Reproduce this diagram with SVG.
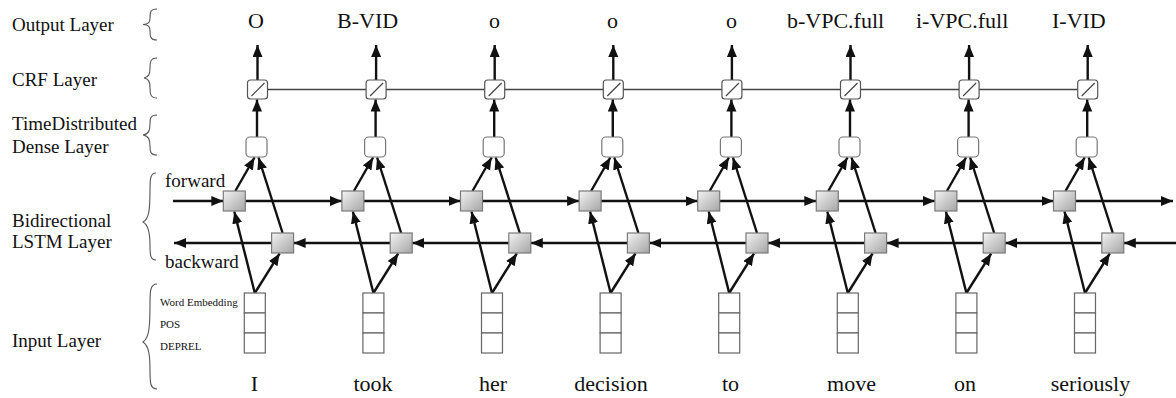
<svg xmlns="http://www.w3.org/2000/svg" width="1176" height="398" viewBox="0 0 1176 398" font-family="'Liberation Serif', 'DejaVu Serif', serif">
  <style>
    text { font-family: "Liberation Serif", "DejaVu Serif", serif; fill: #111; }
    .lbl { font-size: 19px; }
    .small { font-size: 11px; }
    .tok { font-size: 22px; text-anchor: middle; }
    .out { font-size: 22px; }
    .brace { fill: none; stroke: #555; stroke-width: 1.1; }
    .arr { fill: none; stroke: #111; stroke-width: 2.4; marker-end: url(#ah); }
    .chain { fill: none; stroke: #444; stroke-width: 1.5; }
    .lstm { fill: url(#lstmFill); stroke: #7a7a7a; stroke-width: 1.2; }
    .dense { fill: #fff; stroke: #777; stroke-width: 1.2; }
    .crf { fill: #fff; stroke: #555; stroke-width: 1.2; }
    .slash { stroke: #444; stroke-width: 1.2; }
    .cell { fill: #fff; stroke: #666; stroke-width: 1.2; }
  </style>
  <defs>
    <linearGradient id="lstmFill" x1="0" y1="0" x2="1" y2="1">
      <stop offset="0" stop-color="#f4f4f4"/>
      <stop offset="1" stop-color="#a4a4a4"/>
    </linearGradient>
    <marker id="ah" markerUnits="userSpaceOnUse" markerWidth="13" markerHeight="11" refX="12" refY="5" orient="auto">
      <path d="M0,0 L12,5 L0,10 z" fill="#111"/>
    </marker>
  </defs>

  <!-- layer captions and braces -->
  <g id="captions">
    <text class="lbl" x="12" y="31">Output Layer</text>
    <text class="lbl" x="12" y="86">CRF Layer</text>
    <text class="lbl" x="12" y="130">TimeDistributed</text>
    <text class="lbl" x="12" y="153">Dense Layer</text>
    <text class="lbl" x="12" y="227">Bidirectional</text>
    <text class="lbl" x="12" y="248">LSTM Layer</text>
    <text class="lbl" x="165" y="187">forward</text>
    <text class="lbl" x="165" y="268">backward</text>
    <text class="lbl" x="12" y="347">Input Layer</text>
    <text class="small" x="160" y="306">Word Embedding</text>
    <text class="small" x="160" y="328">POS</text>
    <text class="small" x="160" y="350">DEPREL</text>
    <path class="brace" d="M157,9 C150,9 150,13 150,18 C150,22 149,24 143,24.5 C149,25 150,27 150,31 C150,36 150,40 157,40"/>
    <path class="brace" d="M157,58 C150,58 150,63 150,68 C150,74 149,77 144,78 C149,79 150,82 150,88 C150,93 150,98 157,98"/>
    <path class="brace" d="M157,115 C150,115 150,119 150,124 C150,130 149,134 143,135 C149,136 150,140 150,146 C150,151 150,155 157,155"/>
    <path class="brace" d="M156,173 C150,173 150,180 150,190 C150,210 149,219 143,222 C149,225 150,234 150,245 C150,254 150,260 156,260"/>
    <path class="brace" d="M157,284 C150,284 150,292 150,304 C150,328 149,338 143,342 C149,346 150,356 150,370 C150,382 150,389 157,389"/>
  </g>

  <!-- connectors -->
  <g id="connectors">
    <!-- CRF transition chain -->
    <path class="chain" d="M257.5,89.5 L1087.7,89.5"/>
    <!-- forward LSTM direction -->
    <path class="arr" d="M173,201 L223.3,201"/>
    <path class="arr" d="M245.3,201 L341.9,201"/>
    <path class="arr" d="M363.9,201 L460.5,201"/>
    <path class="arr" d="M482.5,201 L579.1,201"/>
    <path class="arr" d="M601.1,201 L697.7,201"/>
    <path class="arr" d="M719.7,201 L816.3,201"/>
    <path class="arr" d="M838.3,201 L934.9,201"/>
    <path class="arr" d="M956.9,201 L1053.5,201"/>
    <path class="arr" d="M1075.5,201 L1173,201"/>
    <!-- backward LSTM direction -->
    <path class="arr" d="M1176,243 L1123.8,243"/>
    <path class="arr" d="M1101.8,243 L1005.2,243"/>
    <path class="arr" d="M983.2,243 L886.6,243"/>
    <path class="arr" d="M864.6,243 L768,243"/>
    <path class="arr" d="M746,243 L649.4,243"/>
    <path class="arr" d="M627.4,243 L530.8,243"/>
    <path class="arr" d="M508.8,243 L412.2,243"/>
    <path class="arr" d="M390.2,243 L293.6,243"/>
    <path class="arr" d="M271.6,243 L174,243"/>

    <!-- per-token vertical flow: input -> LSTMs -> dense -> CRF -> output -->
    <path class="arr" d="M254.8,293 L234.3,211.5"/>
    <path class="arr" d="M254.8,293 L279.6,253.5"/>
    <path class="arr" d="M235.3,191 L254.5,157.5"/>
    <path class="arr" d="M282.6,233 L258.5,157.5"/>
    <path class="arr" d="M257,137 L257,99.5"/>
    <path class="arr" d="M257.5,80 L257.5,45"/>

    <path class="arr" d="M373.4,293 L352.9,211.5"/>
    <path class="arr" d="M373.4,293 L398.2,253.5"/>
    <path class="arr" d="M353.9,191 L373.1,157.5"/>
    <path class="arr" d="M401.2,233 L377.1,157.5"/>
    <path class="arr" d="M375.6,137 L375.6,99.5"/>
    <path class="arr" d="M376.1,80 L376.1,45"/>

    <path class="arr" d="M492,293 L471.5,211.5"/>
    <path class="arr" d="M492,293 L516.8,253.5"/>
    <path class="arr" d="M472.5,191 L491.7,157.5"/>
    <path class="arr" d="M519.8,233 L495.7,157.5"/>
    <path class="arr" d="M494.2,137 L494.2,99.5"/>
    <path class="arr" d="M494.7,80 L494.7,45"/>

    <path class="arr" d="M610.6,293 L590.1,211.5"/>
    <path class="arr" d="M610.6,293 L635.4,253.5"/>
    <path class="arr" d="M591.1,191 L610.3,157.5"/>
    <path class="arr" d="M638.4,233 L614.3,157.5"/>
    <path class="arr" d="M612.8,137 L612.8,99.5"/>
    <path class="arr" d="M613.3,80 L613.3,45"/>

    <path class="arr" d="M729.2,293 L708.7,211.5"/>
    <path class="arr" d="M729.2,293 L754,253.5"/>
    <path class="arr" d="M709.7,191 L728.9,157.5"/>
    <path class="arr" d="M757,233 L732.9,157.5"/>
    <path class="arr" d="M731.4,137 L731.4,99.5"/>
    <path class="arr" d="M731.9,80 L731.9,45"/>

    <path class="arr" d="M847.8,293 L827.3,211.5"/>
    <path class="arr" d="M847.8,293 L872.6,253.5"/>
    <path class="arr" d="M828.3,191 L847.5,157.5"/>
    <path class="arr" d="M875.6,233 L851.5,157.5"/>
    <path class="arr" d="M850,137 L850,99.5"/>
    <path class="arr" d="M850.5,80 L850.5,45"/>

    <path class="arr" d="M966.4,293 L945.9,211.5"/>
    <path class="arr" d="M966.4,293 L991.2,253.5"/>
    <path class="arr" d="M946.9,191 L966.1,157.5"/>
    <path class="arr" d="M994.2,233 L970.1,157.5"/>
    <path class="arr" d="M968.6,137 L968.6,99.5"/>
    <path class="arr" d="M969.1,80 L969.1,45"/>

    <path class="arr" d="M1085,293 L1064.5,211.5"/>
    <path class="arr" d="M1085,293 L1109.8,253.5"/>
    <path class="arr" d="M1065.5,191 L1084.7,157.5"/>
    <path class="arr" d="M1112.8,233 L1088.7,157.5"/>
    <path class="arr" d="M1087.2,137 L1087.2,99.5"/>
    <path class="arr" d="M1087.7,80 L1087.7,45"/>
  </g>

  <!-- token columns -->
  <g id="col-I">
    <text class="out" x="248" y="28">O</text>
    <rect class="crf" x="247.5" y="80" width="20" height="19" rx="3"/>
    <line class="slash" x1="251.5" y1="96" x2="264.5" y2="83"/>
    <rect class="dense" x="246" y="137" width="21" height="20" rx="4"/>
    <rect class="lstm" x="223.3" y="191" width="22" height="20"/>
    <rect class="lstm" x="271.6" y="233" width="22" height="20"/>
    <rect class="cell" x="244.3" y="293" width="21" height="20"/>
    <rect class="cell" x="244.3" y="313" width="21" height="20"/>
    <rect class="cell" x="244.3" y="333" width="21" height="20"/>
    <text class="tok" x="254.5" y="391">I</text>
  </g>
  <g id="col-took">
    <text class="out" x="337" y="28">B-VID</text>
    <rect class="crf" x="366.1" y="80" width="20" height="19" rx="3"/>
    <line class="slash" x1="370.1" y1="96" x2="383.1" y2="83"/>
    <rect class="dense" x="364.6" y="137" width="21" height="20" rx="4"/>
    <rect class="lstm" x="341.9" y="191" width="22" height="20"/>
    <rect class="lstm" x="390.2" y="233" width="22" height="20"/>
    <rect class="cell" x="362.9" y="293" width="21" height="20"/>
    <rect class="cell" x="362.9" y="313" width="21" height="20"/>
    <rect class="cell" x="362.9" y="333" width="21" height="20"/>
    <text class="tok" x="373" y="391">took</text>
  </g>
  <g id="col-her">
    <text class="out" x="489" y="28">o</text>
    <rect class="crf" x="484.7" y="80" width="20" height="19" rx="3"/>
    <line class="slash" x1="488.7" y1="96" x2="501.7" y2="83"/>
    <rect class="dense" x="483.2" y="137" width="21" height="20" rx="4"/>
    <rect class="lstm" x="460.5" y="191" width="22" height="20"/>
    <rect class="lstm" x="508.8" y="233" width="22" height="20"/>
    <rect class="cell" x="481.5" y="293" width="21" height="20"/>
    <rect class="cell" x="481.5" y="313" width="21" height="20"/>
    <rect class="cell" x="481.5" y="333" width="21" height="20"/>
    <text class="tok" x="493" y="391">her</text>
  </g>
  <g id="col-decision">
    <text class="out" x="607" y="28">o</text>
    <rect class="crf" x="603.3" y="80" width="20" height="19" rx="3"/>
    <line class="slash" x1="607.3" y1="96" x2="620.3" y2="83"/>
    <rect class="dense" x="601.8" y="137" width="21" height="20" rx="4"/>
    <rect class="lstm" x="579.1" y="191" width="22" height="20"/>
    <rect class="lstm" x="627.4" y="233" width="22" height="20"/>
    <rect class="cell" x="600.1" y="293" width="21" height="20"/>
    <rect class="cell" x="600.1" y="313" width="21" height="20"/>
    <rect class="cell" x="600.1" y="333" width="21" height="20"/>
    <text class="tok" x="611" y="391">decision</text>
  </g>
  <g id="col-to">
    <text class="out" x="726" y="28">o</text>
    <rect class="crf" x="721.9" y="80" width="20" height="19" rx="3"/>
    <line class="slash" x1="725.9" y1="96" x2="738.9" y2="83"/>
    <rect class="dense" x="720.4" y="137" width="21" height="20" rx="4"/>
    <rect class="lstm" x="697.7" y="191" width="22" height="20"/>
    <rect class="lstm" x="746" y="233" width="22" height="20"/>
    <rect class="cell" x="718.7" y="293" width="21" height="20"/>
    <rect class="cell" x="718.7" y="313" width="21" height="20"/>
    <rect class="cell" x="718.7" y="333" width="21" height="20"/>
    <text class="tok" x="730.5" y="391">to</text>
  </g>
  <g id="col-move">
    <text class="out" x="787" y="28">b-VPC.full</text>
    <rect class="crf" x="840.5" y="80" width="20" height="19" rx="3"/>
    <line class="slash" x1="844.5" y1="96" x2="857.5" y2="83"/>
    <rect class="dense" x="839" y="137" width="21" height="20" rx="4"/>
    <rect class="lstm" x="816.3" y="191" width="22" height="20"/>
    <rect class="lstm" x="864.6" y="233" width="22" height="20"/>
    <rect class="cell" x="837.3" y="293" width="21" height="20"/>
    <rect class="cell" x="837.3" y="313" width="21" height="20"/>
    <rect class="cell" x="837.3" y="333" width="21" height="20"/>
    <text class="tok" x="851.5" y="391">move</text>
  </g>
  <g id="col-on">
    <text class="out" x="916" y="28">i-VPC.full</text>
    <rect class="crf" x="959.1" y="80" width="20" height="19" rx="3"/>
    <line class="slash" x1="963.1" y1="96" x2="976.1" y2="83"/>
    <rect class="dense" x="957.6" y="137" width="21" height="20" rx="4"/>
    <rect class="lstm" x="934.9" y="191" width="22" height="20"/>
    <rect class="lstm" x="983.2" y="233" width="22" height="20"/>
    <rect class="cell" x="955.9" y="293" width="21" height="20"/>
    <rect class="cell" x="955.9" y="313" width="21" height="20"/>
    <rect class="cell" x="955.9" y="333" width="21" height="20"/>
    <text class="tok" x="965" y="391">on</text>
  </g>
  <g id="col-seriously">
    <text class="out" x="1052" y="28">I-VID</text>
    <rect class="crf" x="1077.7" y="80" width="20" height="19" rx="3"/>
    <line class="slash" x1="1081.7" y1="96" x2="1094.7" y2="83"/>
    <rect class="dense" x="1076.2" y="137" width="21" height="20" rx="4"/>
    <rect class="lstm" x="1053.5" y="191" width="22" height="20"/>
    <rect class="lstm" x="1101.8" y="233" width="22" height="20"/>
    <rect class="cell" x="1074.5" y="293" width="21" height="20"/>
    <rect class="cell" x="1074.5" y="313" width="21" height="20"/>
    <rect class="cell" x="1074.5" y="333" width="21" height="20"/>
    <text class="tok" x="1090.5" y="391">seriously</text>
  </g>
</svg>
